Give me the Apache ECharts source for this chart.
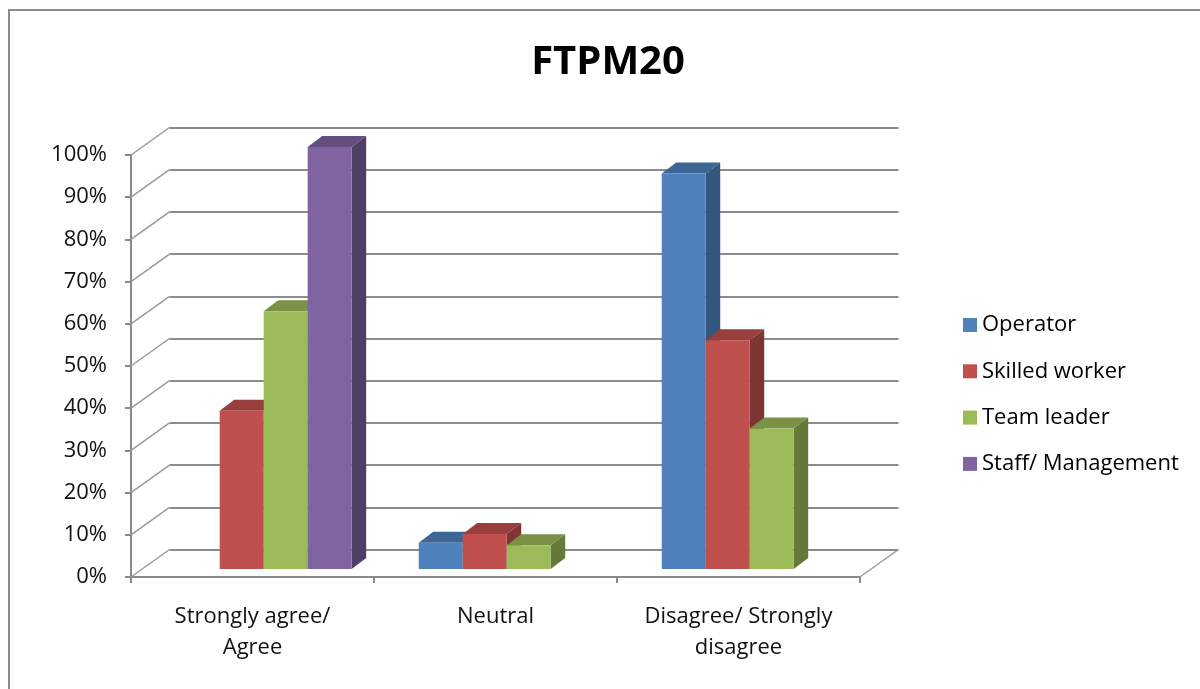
<!DOCTYPE html>
<html>
<head>
<meta charset="utf-8">
<title>FTPM20</title>
<script src="https://cdn.jsdelivr.net/npm/echarts@6/dist/echarts.min.js"></script>
<style>
  html, body { margin: 0; padding: 0; background: #fff; }
  #chart { width: 1200px; height: 689px; }
</style>
</head>
<body>
<div id="chart"></div>
<script>
// Survey answers per respondent group (share of answers, %)
const categories = ['Strongly agree/\nAgree', 'Neutral', 'Disagree/ Strongly\ndisagree'];
const seriesNames = ['Operator', 'Skilled worker', 'Team leader', 'Staff/ Management'];
const operator = [0, 6.25, 93.75];
const skilledWorker = [37.5, 8.3, 54.2];
const teamLeader = [61.1, 5.6, 33.3];
const staffManagement = [100, 0, 0];
const yTicks = [0, 10, 20, 30, 40, 50, 60, 70, 80, 90, 100];

const FONT = '"Open Sans", "Liberation Sans", sans-serif';

// Face colours: front, right side, top
const faces = [
  { front: '#4f81bd', side: '#34557d', top: '#3d6596' },
  { front: '#c0504d', side: '#7e3432', top: '#983f3d' },
  { front: '#9bbb59', side: '#66793b', top: '#7a9146' },
  { front: '#8064a2', side: '#4f3e66', top: '#634e80' }
];

// Perspective offsets (px): back wall from the front plane, bar front plane, bar depth
const WALL_DX = 38.5, WALL_DY = -27.5;
const PLANE_DX = 11.2, PLANE_DY = -8;
const DEPTH_DX = 14.5, DEPTH_DY = -11;
const BAR_FRAC = 0.181;

function barRenderer(idx) {
  return function (params, api) {
    const cat = api.value(0);
    const val = api.value(1);
    if (!val) return null;
    const base = api.coord([cat, 0]);
    const top = api.coord([cat, val]);
    const w = api.size([1, 0])[0] * BAR_FRAC;
    const cx = base[0] + PLANE_DX + (idx - 1.5) * w;
    const x0 = cx - w / 2, x1 = cx + w / 2;
    const yb = base[1] + PLANE_DY, yt = top[1] + PLANE_DY;
    const f = faces[idx];
    return {
      type: 'group',
      children: [
        {
          type: 'polygon',
          shape: { points: [[x1, yt], [x1 + DEPTH_DX, yt + DEPTH_DY], [x1 + DEPTH_DX, yb + DEPTH_DY], [x1, yb]] },
          style: { fill: f.side }
        },
        {
          type: 'polygon',
          shape: { points: [[x0, yt], [x0 + DEPTH_DX, yt + DEPTH_DY], [x1 + DEPTH_DX, yt + DEPTH_DY], [x1, yt]] },
          style: { fill: f.top }
        },
        {
          type: 'rect',
          shape: { x: x0, y: yt, width: w, height: yb - yt },
          style: { fill: f.front }
        }
      ]
    };
  };
}

function toPairs(values) {
  return values.map((v, i) => [i, v]);
}

const seriesValues = [operator, skilledWorker, teamLeader, staffManagement];

const barSeries = seriesValues.map((vals, i) => ({
  name: seriesNames[i],
  type: 'custom',
  xAxisIndex: 0,
  yAxisIndex: 0,
  z: 5,
  itemStyle: { color: faces[i].front },
  renderItem: barRenderer(i),
  encode: { x: 0, y: 1 },
  data: toPairs(vals)
}));

// Left wall edges: one slanted line per tick, front axis to back wall
const wallSeries = {
  type: 'custom',
  xAxisIndex: 0,
  yAxisIndex: 0,
  z: 1,
  silent: true,
  renderItem: function (params, api) {
    const x = params.coordSys.x;
    const y = api.coord([0, api.value(1)])[1];
    return {
      type: 'line',
      shape: { x1: x, y1: y, x2: x + WALL_DX, y2: y + WALL_DY },
      style: { stroke: '#9a9a9a', lineWidth: 1.5 }
    };
  },
  encode: { x: 0, y: 1 },
  data: yTicks.map(v => [0, v])
};

// Right floor edge
const floorSeries = {
  type: 'custom',
  xAxisIndex: 0,
  yAxisIndex: 0,
  z: 1,
  silent: true,
  renderItem: function (params, api) {
    const x = params.coordSys.x + params.coordSys.width;
    const y = api.coord([0, 0])[1];
    return {
      type: 'line',
      shape: { x1: x, y1: y, x2: x + WALL_DX, y2: y + WALL_DY },
      style: { stroke: '#9a9a9a', lineWidth: 1.5 }
    };
  },
  encode: { x: 0, y: 1 },
  data: [[0, 0]]
};

const chart = echarts.init(document.getElementById('chart'), null, { renderer: 'canvas' });

chart.setOption({
  animation: false,
  backgroundColor: '#ffffff',
  color: faces.map(f => f.front),
  title: {
    text: 'FTPM20',
    left: 603,
    top: 38,
    textAlign: 'center',
    textStyle: { fontFamily: FONT, fontSize: 40, fontWeight: 'bold', color: '#000' }
  },
  legend: {
    orient: 'vertical',
    left: 958,
    top: 309,
    icon: 'rect',
    itemWidth: 14,
    itemHeight: 14,
    itemGap: 24.3,
    data: seriesNames,
    textStyle: { fontFamily: FONT, fontSize: 22, color: '#000' }
  },
  graphic: [{
    type: 'rect',
    z: -10,
    shape: { x: 9, y: 10, width: 1200, height: 700 },
    style: { fill: '#fff', stroke: '#8c8c8c', lineWidth: 2 }
  }],
  grid: [
    // front plane of the plot: axes, ticks and labels
    { left: 131, top: 155, right: 340, bottom: 112, containLabel: false },
    // back wall: gridlines only
    { left: 131 + WALL_DX, top: 155 + WALL_DY, right: 340 - WALL_DX, bottom: 112 - WALL_DY, containLabel: false }
  ],
  xAxis: [
    {
      gridIndex: 0,
      type: 'category',
      data: categories,
      boundaryGap: true,
      axisLine: { lineStyle: { color: '#8a8a8a', width: 2 } },
      axisTick: { show: true, length: 6, lineStyle: { color: '#8a8a8a', width: 2 } },
      axisLabel: {
        interval: 0,
        margin: 24,
        fontFamily: FONT,
        fontSize: 22,
        lineHeight: 31,
        color: '#111'
      },
      splitLine: { show: false }
    },
    {
      gridIndex: 1,
      type: 'value',
      min: 0,
      max: 1,
      show: false
    }
  ],
  yAxis: [
    {
      gridIndex: 0,
      type: 'value',
      min: 0,
      max: 100,
      interval: 10,
      axisLine: { show: true, lineStyle: { color: '#8a8a8a', width: 2 } },
      axisTick: { show: true, length: 6, lineStyle: { color: '#8a8a8a', width: 2 } },
      axisLabel: {
        formatter: '{value}%',
        margin: 24,
        fontFamily: FONT,
        fontSize: 22,
        color: '#111'
      },
      splitLine: { show: false }
    },
    {
      gridIndex: 1,
      type: 'value',
      min: 0,
      max: 100,
      interval: 10,
      axisLine: { show: false },
      axisTick: { show: false },
      axisLabel: { show: false },
      splitLine: { show: true, lineStyle: { color: '#8c8c8c', width: 2 } }
    }
  ],
  series: [wallSeries, floorSeries].concat(barSeries)
});
</script>
</body>
</html>
